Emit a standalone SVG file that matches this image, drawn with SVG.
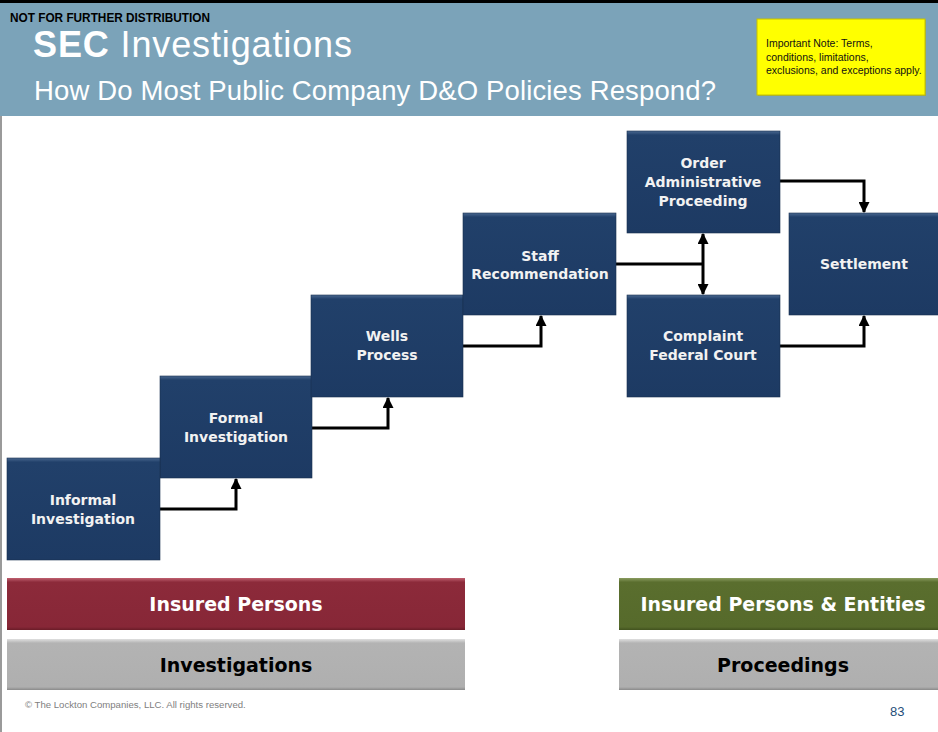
<svg xmlns="http://www.w3.org/2000/svg" width="938" height="732" viewBox="0 0 938 732">
<defs>
<linearGradient id="gBox" x1="0" y1="0" x2="0" y2="1">
<stop offset="0" stop-color="#4A6890"/>
<stop offset="0.04" stop-color="#21406A"/>
<stop offset="1" stop-color="#1D3A63"/>
</linearGradient>
<linearGradient id="gRed" x1="0" y1="0" x2="0" y2="1">
<stop offset="0" stop-color="#C06070"/>
<stop offset="0.08" stop-color="#8C2A3A"/>
<stop offset="0.94" stop-color="#872737"/>
<stop offset="1" stop-color="#6A1C28"/>
</linearGradient>
<linearGradient id="gGreen" x1="0" y1="0" x2="0" y2="1">
<stop offset="0" stop-color="#8A9C60"/>
<stop offset="0.08" stop-color="#5A6E2E"/>
<stop offset="0.94" stop-color="#566A2B"/>
<stop offset="1" stop-color="#42521F"/>
</linearGradient>
<linearGradient id="gGrey" x1="0" y1="0" x2="0" y2="1">
<stop offset="0" stop-color="#E0E0E0"/>
<stop offset="0.08" stop-color="#B3B3B3"/>
<stop offset="0.94" stop-color="#AFAFAF"/>
<stop offset="1" stop-color="#8A8A8A"/>
</linearGradient>
<marker id="arr" viewBox="0 0 10 10" refX="9" refY="5" markerWidth="11" markerHeight="11" markerUnits="userSpaceOnUse" orient="auto-start-reverse">
<path d="M0,0 L10,5 L0,10 z" fill="#000"/>
</marker>
<style>
.box{fill:url(#gBox);stroke:#18304F;stroke-width:0.6}
.bt{font-family:"DejaVu Sans",Verdana,sans-serif;font-weight:bold;font-size:14px;fill:#F2F2F2;text-anchor:middle}
.bar{font-family:"DejaVu Sans",Verdana,sans-serif;font-weight:bold;font-size:19px;text-anchor:middle}
.conn{fill:none;stroke:#000;stroke-width:3}
</style>
</defs>
<rect x="0" y="0" width="938" height="732" fill="#FFFFFF"/>
<g id="header">
<rect x="0" y="3" width="938" height="113" fill="#7BA3B9"/>
<rect x="0" y="0" width="938" height="3" fill="#000"/>
<text x="10" y="22" font-family="Liberation Sans, Arial, sans-serif" font-weight="bold" font-size="12" textLength="200" lengthAdjust="spacingAndGlyphs" fill="#000">NOT FOR FURTHER DISTRIBUTION</text>
<text x="33" y="57" font-family="Liberation Sans, Arial, sans-serif" font-size="36" fill="#FFFFFF" textLength="319" lengthAdjust="spacing"><tspan font-weight="bold">SEC</tspan> Investigations</text>
<text x="34" y="100" font-family="Liberation Sans, Arial, sans-serif" font-size="27.5" fill="#FFFFFF" textLength="682" lengthAdjust="spacing">How Do Most Public Company D&amp;O Policies Respond?</text>
</g>
<g id="note">
<rect x="758" y="20" width="168" height="76" fill="#A8A800" opacity="0.5"/>
<rect x="757" y="19" width="168" height="76" fill="#FFFF00" stroke="#C8C000" stroke-width="1"/>
<text font-family="Liberation Sans, Arial, sans-serif" font-size="10.5" fill="#111">
<tspan x="766" y="47">Important Note:  Terms,</tspan>
<tspan x="766" y="61">conditions, limitations,</tspan>
<tspan x="766" y="74">exclusions, and exceptions apply.</tspan>
</text>
</g>
<rect x="0" y="116" width="2" height="616" fill="#9A9A9A"/>
<g id="connectors">
<path class="conn" d="M160,509 H236 V479" marker-end="url(#arr)"/>
<path class="conn" d="M312,428 H388 V398" marker-end="url(#arr)"/>
<path class="conn" d="M463,346 H541 V316" marker-end="url(#arr)"/>
<path class="conn" d="M616,264 H703"/>
<path class="conn" d="M703,234 V294" marker-start="url(#arr)" marker-end="url(#arr)"/>
<path class="conn" d="M780,181 H864 V212" marker-end="url(#arr)"/>
<path class="conn" d="M780,346 H864 V316" marker-end="url(#arr)"/>
</g>
<g id="formal">
<rect class="box" x="160" y="376" width="152" height="102"/>
<text class="bt" x="236" y="423">Formal</text>
<text class="bt" x="236" y="442">Investigation</text>
</g>
<g id="informal">
<rect class="box" x="7" y="458" width="153" height="102"/>
<text class="bt" x="83" y="505">Informal</text>
<text class="bt" x="83" y="524">Investigation</text>
</g>
<g id="wells">
<rect class="box" x="311" y="295" width="152" height="102"/>
<text class="bt" x="387" y="341">Wells</text>
<text class="bt" x="387" y="360">Process</text>
</g>
<g id="staff">
<rect class="box" x="463" y="213" width="153" height="102"/>
<text class="bt" x="540" y="261">Staff</text>
<text class="bt" x="540" y="279">Recommendation</text>
</g>
<g id="order">
<rect class="box" x="627" y="131" width="153" height="102"/>
<text class="bt" x="703" y="168">Order</text>
<text class="bt" x="703" y="187">Administrative</text>
<text class="bt" x="703" y="206">Proceeding</text>
</g>
<g id="complaint">
<rect class="box" x="627" y="295" width="153" height="102"/>
<text class="bt" x="703" y="341">Complaint</text>
<text class="bt" x="703" y="360">Federal Court</text>
</g>
<g id="settlement">
<rect class="box" x="789" y="213" width="152" height="102"/>
<text class="bt" x="864" y="269">Settlement</text>
</g>
<g id="insured-persons">
<rect x="7" y="578" width="458" height="52" fill="url(#gRed)"/>
<text class="bar" x="236" y="611" fill="#FFFFFF">Insured Persons</text>
</g>
<g id="investigations">
<rect x="7" y="639" width="458" height="51" fill="url(#gGrey)"/>
<text class="bar" x="236" y="672" fill="#000">Investigations</text>
</g>
<g id="insured-entities">
<rect x="619" y="578" width="320" height="52" fill="url(#gGreen)"/>
<text class="bar" x="783" y="611" fill="#FFFFFF">Insured Persons &amp; Entities</text>
</g>
<g id="proceedings">
<rect x="619" y="639" width="320" height="51" fill="url(#gGrey)"/>
<text class="bar" x="783" y="672" fill="#000">Proceedings</text>
</g>
<g id="footer">
<text x="25" y="708" font-family="Liberation Sans, Arial, sans-serif" font-size="9.6" fill="#808080">© The Lockton Companies, LLC. All rights reserved.</text>
<text x="890" y="716" font-family="Liberation Sans, Arial, sans-serif" font-size="13" fill="#1F4E79">83</text>
</g>
</svg>
